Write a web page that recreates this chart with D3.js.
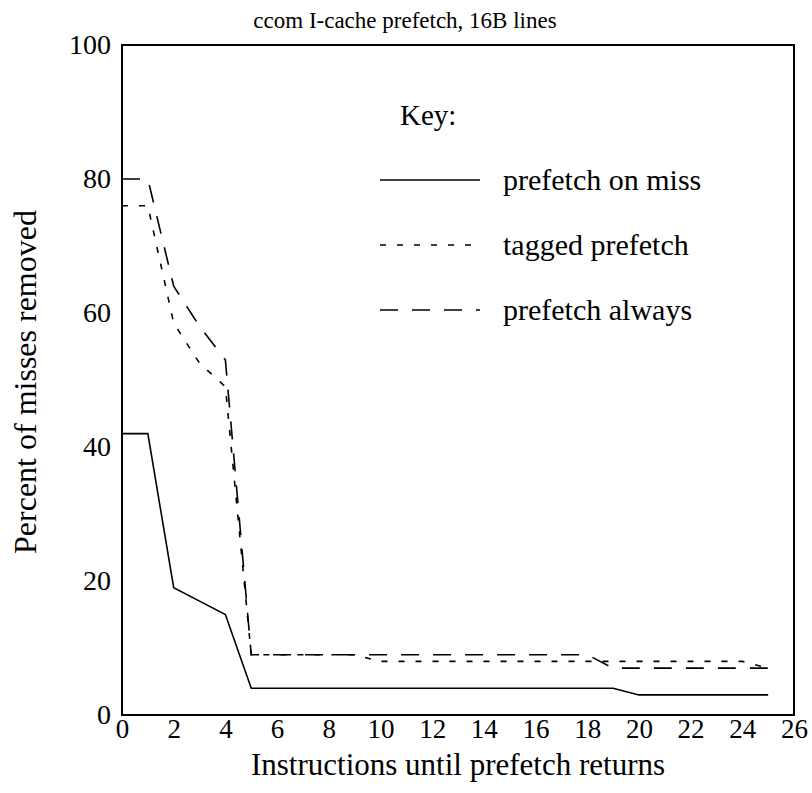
<!DOCTYPE html>
<html>
<head>
<meta charset="utf-8">
<script src="https://cdn.jsdelivr.net/npm/d3@7"></script>
<style>
  body { margin: 0; background: #fff; }
  svg text { font-family: "Liberation Serif", "Times New Roman", Times, serif !important; fill: #000; }
</style>
</head>
<body>
<svg id="chart" width="812" height="793"></svg>
<script>
// ---- data ----
const xValues = [0, 1, 2, 3, 4, 5, 6, 7, 8, 9, 10, 11, 12, 13, 14, 15, 16, 17, 18, 19, 20, 21, 22, 23, 24, 25];
const prefetchOnMiss = [42, 42, 19, 17, 15, 4, 4, 4, 4, 4, 4, 4, 4, 4, 4, 4, 4, 4, 4, 4, 3, 3, 3, 3, 3, 3];
const taggedPrefetch = [76, 76, 58.5, 52.5, 49, 9, 9, 9, 9, 9, 8, 8, 8, 8, 8, 8, 8, 8, 8, 8, 8, 8, 8, 8, 8, 7];
const prefetchAlways = [80, 80, 64, 58, 53, 9, 9, 9, 9, 9, 9, 9, 9, 9, 9, 9, 9, 9, 9, 7, 7, 7, 7, 7, 7, 7];
const seriesNames = ["prefetch on miss", "tagged prefetch", "prefetch always"];
const xTicks = [0, 2, 4, 6, 8, 10, 12, 14, 16, 18, 20, 22, 24, 26];
const yTicks = [0, 20, 40, 60, 80, 100];
const titleText = "ccom I-cache prefetch, 16B lines";
const xTitle = "Instructions until prefetch returns";
const yTitle = "Percent of misses removed";
const keyTitle = "Key:";

// ---- layout ----
const svg = d3.select("#chart");
const mLeft = 122, mRight = 794, mTop = 45, mBottom = 715;
const x = d3.scaleLinear().domain([0, 26]).range([mLeft, mRight]);
const y = d3.scaleLinear().domain([0, 100]).range([mBottom, mTop]);

const dashes = ["none", "6,11", "18,14"];
const seriesData = [prefetchOnMiss, taggedPrefetch, prefetchAlways];

// frame
svg.append("rect")
  .attr("x", mLeft).attr("y", mTop)
  .attr("width", mRight - mLeft).attr("height", mBottom - mTop)
  .attr("fill", "none").attr("stroke", "#000").attr("stroke-width", 2);

// axes (labels only, no tick marks)
const xAxis = d3.axisBottom(x).tickValues(xTicks).tickSize(0).tickPadding(4);
const gx = svg.append("g").attr("transform", `translate(0,${mBottom})`).call(xAxis);
gx.select(".domain").remove();
gx.selectAll("text").attr("font-size", 27).attr("fill", "#000");

const yAxis = d3.axisLeft(y).tickValues(yTicks).tickSize(0).tickPadding(11);
const gy = svg.append("g").attr("transform", `translate(${mLeft},0)`).call(yAxis);
gy.select(".domain").remove();
gy.selectAll("text").attr("font-size", 28).attr("fill", "#000");

// lines
const line = d3.line().x((d, i) => x(xValues[i])).y(d => y(d));
seriesData.forEach((s, k) => {
  svg.append("path")
    .datum(s)
    .attr("d", line)
    .attr("fill", "none")
    .attr("stroke", "#000")
    .attr("stroke-width", 1.6)
    .attr("stroke-dasharray", dashes[k]);
});

// title
svg.append("text").attr("x", 405).attr("y", 28)
  .attr("text-anchor", "middle").attr("font-size", 23).text(titleText);

// x title
svg.append("text").attr("x", 458).attr("y", 775)
  .attr("text-anchor", "middle").attr("font-size", 31).text(xTitle);

// y title
svg.append("text")
  .attr("transform", "translate(36,382) rotate(-90)")
  .attr("text-anchor", "middle").attr("font-size", 32).text(yTitle);

// key
svg.append("text").attr("x", 400).attr("y", 125).attr("font-size", 29).text(keyTitle);
const keyY = [180, 245, 310];
seriesNames.forEach((name, k) => {
  svg.append("line")
    .attr("x1", 380).attr("x2", 480)
    .attr("y1", keyY[k]).attr("y2", keyY[k])
    .attr("stroke", "#000").attr("stroke-width", 1.6)
    .attr("stroke-dasharray", dashes[k]);
  svg.append("text").attr("x", 503).attr("y", keyY[k] + 10)
    .attr("font-size", 30).text(name);
});
</script>
</body>
</html>
